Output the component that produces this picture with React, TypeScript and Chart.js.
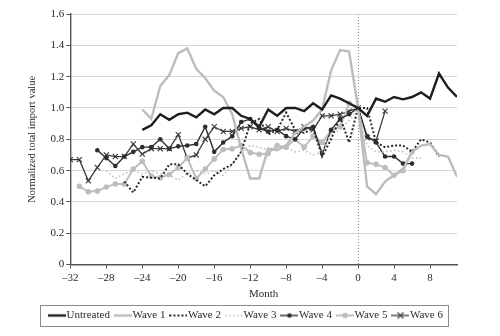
import React, { useEffect, useRef } from 'react';
import { Chart, registerables } from 'chart.js';

Chart.register(...registerables);

// ---------- data ----------
const seriesLabels = ['Untreated', 'Wave 1', 'Wave 2', 'Wave 3', 'Wave 4', 'Wave 5', 'Wave 6'];
// first month of each series (months relative to treatment)
const seriesStartMonths = [-24, -24, -26, -28, -29, -31, -32];

const untreated = [0.86, 0.89, 0.96, 0.925, 0.96, 0.97, 0.94, 0.99, 0.96, 1.0, 1.0, 0.95, 0.93, 0.88, 0.99, 0.95, 1.0, 1.0, 0.98, 1.03, 0.99, 1.08, 1.06, 1.03, 1.0, 0.95, 1.06, 1.04, 1.07, 1.055, 1.07, 1.1, 1.06, 1.22, 1.13, 1.07];
const wave1 = [0.99, 0.93, 1.14, 1.21, 1.35, 1.38, 1.25, 1.19, 1.11, 1.07, 0.96, 0.74, 0.55, 0.55, 0.74, 0.73, 0.76, 0.84, 0.88, 0.92, 0.99, 1.24, 1.37, 1.36, 1.0, 0.5, 0.45, 0.53, 0.57, 0.61, 0.72, 0.76, 0.77, 0.7, 0.69, 0.56];
const wave2 = [0.53, 0.46, 0.56, 0.555, 0.55, 0.64, 0.64, 0.58, 0.54, 0.5, 0.57, 0.61, 0.64, 0.72, 0.9, 0.93, 0.83, 0.86, 0.97, 0.86, 0.84, 0.87, 0.69, 0.8, 0.94, 0.78, 1.0, 1.0, 0.78, 0.75, 0.76, 0.76, 0.72, 0.8, 0.78, 0.69];
const wave3 = [0.6, 0.55, 0.58, 0.6, 0.58, 0.6, 0.58, 0.57, 0.54, 0.58, 0.6, 0.58, 0.6, 0.57, 0.64, 0.72, 0.76, 0.75, 0.73, 0.74, 0.75, 0.72, 0.73, 0.7, 0.72, 0.84, 0.86, 0.92, 1.0, 0.76, 0.72, 0.72, 0.73, 0.72, 0.68, 0.68];
const wave4 = [0.73, 0.68, 0.63, 0.69, 0.72, 0.75, 0.75, 0.8, 0.74, 0.755, 0.76, 0.77, 0.88, 0.72, 0.78, 0.82, 0.91, 0.93, 0.87, 0.85, 0.86, 0.82, 0.8, 0.87, 0.88, 0.71, 0.86, 0.93, 0.96, 1.0, 0.82, 0.78, 0.69, 0.69, 0.645, 0.645];
const wave5 = [0.5, 0.465, 0.47, 0.495, 0.515, 0.515, 0.61, 0.66, 0.565, 0.555, 0.575, 0.62, 0.68, 0.55, 0.61, 0.675, 0.735, 0.74, 0.76, 0.715, 0.705, 0.71, 0.76, 0.75, 0.8, 0.75, 0.82, 0.78, 0.855, 0.88, 1.03, 1.0, 0.65, 0.64, 0.62, 0.57, 0.6, 0.72];
const wave6 = [0.67, 0.67, 0.535, 0.62, 0.7, 0.69, 0.69, 0.77, 0.705, 0.74, 0.74, 0.74, 0.83, 0.68, 0.7, 0.8, 0.88, 0.85, 0.85, 0.87, 0.88, 0.86, 0.88, 0.85, 0.87, 0.85, 0.88, 0.86, 0.95, 0.95, 0.96, 0.98, 1.0, 0.81, 0.79, 0.98];

const seriesValues = [untreated, wave1, wave2, wave3, wave4, wave5, wave6];

const monthMin = -32;
const monthMax = 11;
const monthStep = 4;
const valueMin = 0;
const valueMax = 1.6;
const valueStep = 0.2;
const xTitle = 'Month';
const yTitle = 'Normalized total import value';

// ---------- styles ----------
const FONT = '"Liberation Serif", "DejaVu Serif", serif';
const TEXT = '#2a2a2a';

type Style = {
  color: string;
  width: number;
  dash: number[];
  point: string | false;
  radius: number;
  pointColor: string;
};

const styles: Style[] = [
  { color: '#1e1e1e', width: 2.4, dash: [], point: false, radius: 0, pointColor: '#1e1e1e' },
  { color: '#bcbcbc', width: 2.4, dash: [], point: false, radius: 0, pointColor: '#bcbcbc' },
  { color: '#2a2a2a', width: 2, dash: [2, 2], point: false, radius: 0, pointColor: '#2a2a2a' },
  { color: '#c2c2c2', width: 1.6, dash: [1.6, 2.4], point: false, radius: 0, pointColor: '#c2c2c2' },
  { color: '#2e2e2e', width: 1.4, dash: [], point: 'circle', radius: 2.3, pointColor: '#2e2e2e' },
  { color: '#bdbdbd', width: 1.9, dash: [], point: 'circle', radius: 2.8, pointColor: '#bdbdbd' },
  { color: '#3a3a3a', width: 1.3, dash: [], point: 'crossRot', radius: 3.6, pointColor: '#3a3a3a' },
];

function makeSample(s: Style): HTMLCanvasElement {
  const c = document.createElement('canvas');
  c.width = 18;
  c.height = 10;
  const g = c.getContext('2d')!;
  g.strokeStyle = s.color;
  g.lineWidth = s.width;
  g.setLineDash(s.dash);
  g.beginPath();
  g.moveTo(0, 5);
  g.lineTo(18, 5);
  g.stroke();
  g.setLineDash([]);
  if (s.point === 'circle') {
    g.fillStyle = s.pointColor;
    g.beginPath();
    g.arc(9, 5, s.radius, 0, Math.PI * 2);
    g.fill();
  } else if (s.point === 'crossRot') {
    g.lineWidth = 1.1;
    const r = 3;
    g.beginPath();
    g.moveTo(9 - r, 5 - r);
    g.lineTo(9 + r, 5 + r);
    g.moveTo(9 - r, 5 + r);
    g.lineTo(9 + r, 5 - r);
    g.stroke();
  }
  return c;
}

const zeroLinePlugin = {
  id: 'zeroLine',
  beforeDatasetsDraw(chart: any) {
    const { ctx, chartArea, scales } = chart;
    const x = Math.round(scales.x.getPixelForValue(0)) + 0.5;
    ctx.save();
    ctx.strokeStyle = '#8c8c8c';
    ctx.lineWidth = 1;
    ctx.setLineDash([1, 2]);
    ctx.beginPath();
    ctx.moveTo(x, chartArea.top);
    ctx.lineTo(x, chartArea.bottom);
    ctx.stroke();
    ctx.restore();
  },
};

const legendBoxPlugin = {
  id: 'legendBox',
  afterLayout(chart: any) {
    const lg = chart.legend;
    if (lg) {
      lg.left += 13;
      lg.width = lg.right - lg.left;
    }
  },
  afterDraw(chart: any) {
    const lg = chart.legend;
    if (!lg || !lg.legendHitBoxes || !lg.legendHitBoxes.length) return;
    const boxes = lg.legendHitBoxes;
    const first = boxes[0];
    const last = boxes[boxes.length - 1];
    const left = first.left - 13;
    const right = last.left + last.width + 5;
    const top = first.top - 5;
    const bottom = first.top + first.height + 5;
    const ctx = chart.ctx;
    ctx.save();
    ctx.strokeStyle = '#8a8a8a';
    ctx.lineWidth = 1;
    ctx.strokeRect(Math.round(left) + 0.5, Math.round(top) + 0.5, Math.round(right - left), Math.round(bottom - top));
    ctx.restore();
  },
};

export default function App() {
  const ref = useRef<HTMLCanvasElement>(null);

  useEffect(() => {
    document.body.style.margin = '0';
    const canvas = ref.current;
    if (!canvas) return;
    const samples = styles.map(makeSample);

    const datasets = seriesLabels.map((label, i) => {
      const s = styles[i];
      return {
        label,
        data: seriesValues[i].map((v, k) => ({ x: seriesStartMonths[i] + k, y: v })),
        borderColor: s.color,
        backgroundColor: s.pointColor,
        borderWidth: s.width,
        borderDash: s.dash,
        borderCapStyle: 'butt',
        tension: 0,
        fill: false,
        pointStyle: s.point || 'circle',
        pointRadius: s.radius,
        pointBorderWidth: s.point === 'crossRot' ? 1.1 : 0,
        pointBorderColor: s.pointColor,
        pointBackgroundColor: s.pointColor,
      };
    });

    const chart = new Chart(canvas, {
      type: 'line',
      data: { datasets: datasets as any },
      plugins: [zeroLinePlugin, legendBoxPlugin],
      options: {
        animation: false,
        responsive: false,
        events: [],
        layout: { padding: { left: 26, right: 43, top: 14, bottom: 5 } },
        plugins: {
          tooltip: { enabled: false },
          legend: {
            position: 'bottom',
            labels: {
              usePointStyle: true,
              pointStyleWidth: 8,
              padding: 9,
              color: TEXT,
              font: { family: FONT, size: 11 },
              generateLabels(ch: any) {
                const items = (Chart.defaults.plugins.legend.labels as any).generateLabels(ch);
                items.forEach((it: any, i: number) => {
                  it.pointStyle = samples[i];
                });
                return items;
              },
            },
          },
        },
        scales: {
          x: {
            type: 'linear',
            min: monthMin,
            max: monthMax,
            grid: {
              drawOnChartArea: false,
              drawTicks: true,
              tickLength: 4,
              tickColor: '#555',
            },
            border: { display: true, color: '#555', width: 1.4 },
            ticks: {
              stepSize: monthStep,
              includeBounds: false,
              padding: 3,
              color: TEXT,
              font: { family: FONT, size: 11 },
              callback: (v: any) => (v < 0 ? '\u2013' + Math.abs(v) : String(v)),
            },
            title: {
              display: true,
              text: xTitle,
              color: TEXT,
              font: { family: FONT, size: 11 },
              padding: { top: 0, bottom: 0 },
            },
          },
          y: {
            type: 'linear',
            min: valueMin,
            max: valueMax,
            grid: {
              color: (c: any) => (c.tick && c.tick.value === 0 ? 'rgba(0,0,0,0)' : '#d6d6d6'),
              lineWidth: 1,
              tickLength: 4,
              tickColor: '#555',
            },
            border: { display: true, color: '#555', width: 1.4 },
            ticks: {
              stepSize: valueStep,
              padding: 2,
              color: TEXT,
              font: { family: FONT, size: 11 },
            },
            title: {
              display: true,
              text: yTitle,
              color: TEXT,
              font: { family: FONT, size: 10.5 },
              padding: { top: 0, bottom: 10 },
            },
          },
        },
      } as any,
    });
    return () => chart.destroy();
  }, []);

  return (
    <div style={{ width: 500, height: 336 }}>
      <canvas ref={ref} width={500} height={336} style={{ display: 'block' }} />
    </div>
  );
}
